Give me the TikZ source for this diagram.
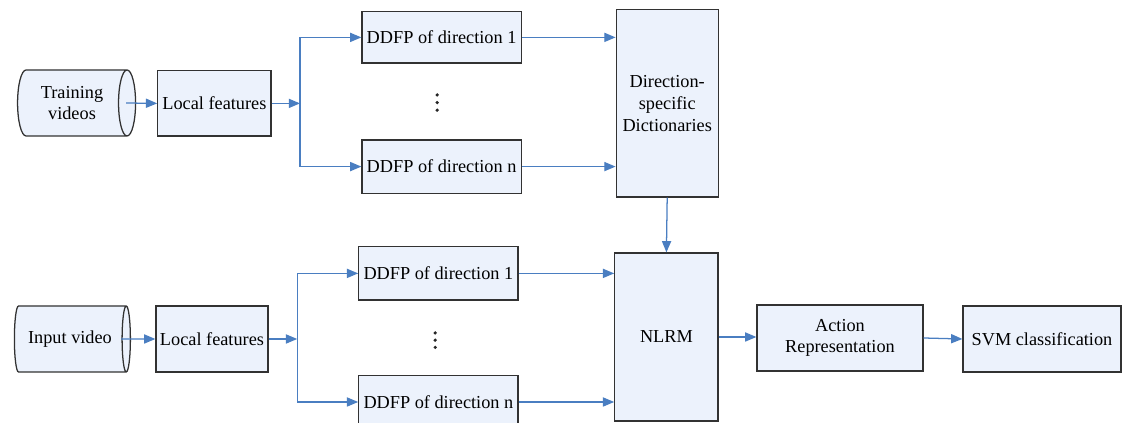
\documentclass[tikz,border=0pt]{standalone}
\usepackage{fontspec}
\setmainfont{Liberation Serif}
\usetikzlibrary{shapes.geometric,arrows.meta}
\definecolor{boxfill}{RGB}{236,242,252}
\definecolor{flowblue}{RGB}{74,126,193}
\definecolor{boxline}{RGB}{50,50,50}

\begin{document}
\begin{tikzpicture}[
	every node/.style={font=\rmfamily\fontsize{13}{15.5}\selectfont},
	block/.style={draw=boxline, line width=0.9pt, fill=boxfill, inner sep=0pt, align=center},
	store/.style={cylinder, draw=boxline, line width=0.9pt, fill=boxfill, aspect=0.5, inner sep=0pt, align=center},
	flow/.style={draw=flowblue, line width=0.9pt, -{Triangle[length=8pt,width=6.5pt]}},
	dot/.style={circle, fill=black!85, inner sep=0pt, minimum size=0.09cm}
	]
	\useasboundingbox (0cm,0cm) rectangle (28.05cm,10.575cm);
	
	\node[store, minimum width=1.65cm, minimum height=2.95cm] (train) at (1.8cm, 8cm) {Training\\videos};
	\node[block, minimum width=2.83cm, minimum height=1.63cm] (feat1) at (5.36cm, 7.99cm) {Local features};
	\node[block, minimum width=3.98cm, minimum height=1.28cm] (dirA1) at (11.04cm, 9.64cm) {DDFP of direction 1};
	\node[block, minimum width=3.98cm, minimum height=1.33cm] (dirAn) at (11.04cm, 6.41cm) {DDFP of direction n};
	\node[block, minimum width=2.55cm, minimum height=4.68cm] (dict) at (16.68cm, 7.99cm) {Direction-\\specific\\Dictionaries};
	
	\node[store, minimum width=1.65cm, minimum height=2.9cm] (input) at (1.75cm, 2.1cm) {Input video};
	\node[block, minimum width=2.8cm, minimum height=1.65cm] (feat2) at (5.3cm, 2.1cm) {Local features};
	\node[block, minimum width=3.98cm, minimum height=1.33cm] (dirB1) at (10.96cm, 3.74cm) {DDFP of direction 1};
	\node[block, minimum width=3.98cm, minimum height=1.33cm] (dirBn) at (10.96cm, 0.525cm) {DDFP of direction n};
	\node[block, minimum width=2.58cm, minimum height=4.2cm] (nlrm) at (16.66cm, 2.15cm) {NLRM};
	\node[block, minimum width=4.15cm, minimum height=1.65cm] (act) at (21cm, 2.125cm) {Action\\Representation};
	\node[block, minimum width=3.95cm, minimum height=1.65cm] (svm) at (26.05cm, 2.1cm) {SVM classification};
	
	\foreach \k in {0,1,2} {
		\node[dot] (dotA\k) at (10.93cm, 8.2cm - \k*0.19cm) {};
		\node[dot] (dotB\k) at (10.88cm, 2.25cm - \k*0.18cm) {};
	}
	
	\coordinate (splitA) at (7.5cm, 7.99cm);
	\coordinate (splitB) at (7.43cm, 2.1cm);
	
	\draw[flow] ([xshift=-0.25cm]train.east) -- (feat1.west);
	\draw[flow] (feat1.east) -- (splitA);
	\draw[flow] (splitA) |- (dirA1.west);
	\draw[flow] (splitA) |- (dirAn.west);
	\draw[flow] (dirA1.east) -- (dirA1.east -| dict.west);
	\draw[flow] (dirAn.east) -- (dirAn.east -| dict.west);
	\draw[flow] (dict.south) -- (nlrm.north);
	
	\draw[flow] ([xshift=-0.25cm]input.east) -- (feat2.west);
	\draw[flow] (feat2.east) -- (splitB);
	\draw[flow] (splitB) |- (dirB1.west);
	\draw[flow] (splitB) |- (dirBn.west);
	\draw[flow] (dirB1.east) -- (dirB1.east -| nlrm.west);
	\draw[flow] (dirBn.east) -- (dirBn.east -| nlrm.west);
	\draw[flow] (nlrm.east) -- (nlrm.east -| act.west);
	\draw[flow] (act.east) -- (svm.west);
	
\end{tikzpicture}
\end{document}
